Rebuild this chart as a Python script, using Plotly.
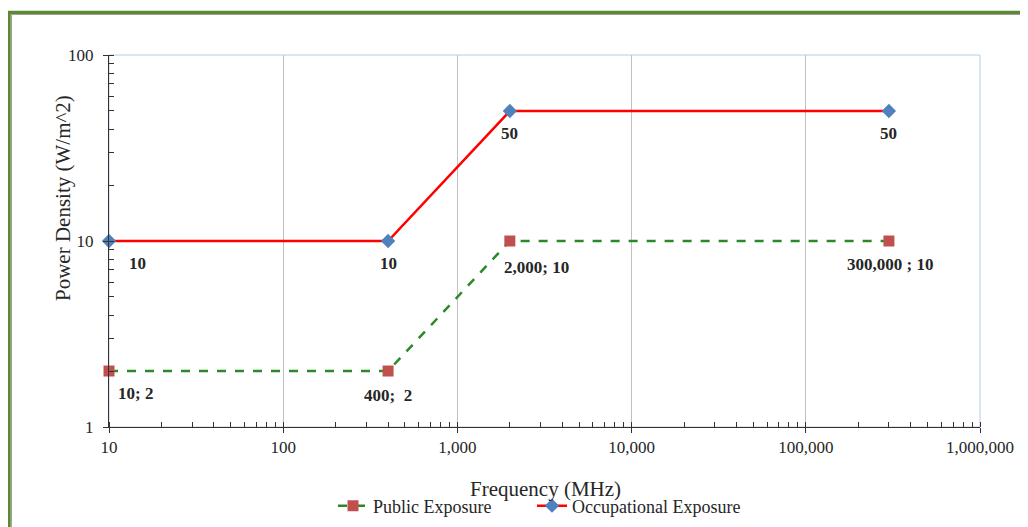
import math
import plotly.graph_objects as go

freq = [10, 400, 2000, 300000]
public_vals = [2, 2, 10, 10]
occup_vals = [10, 10, 50, 50]
public_labels = ["10; 2", "400;&nbsp; 2", "2,000; 10", "300,000 ; 10"]
occup_labels = ["10", "10", "50", "50"]
x_ticks = [10, 100, 1000, 10000, 100000, 1000000]
x_ticktext = ["10", "100", "1,000", "10,000", "100,000", "1,000,000"]
y_ticks = [1, 10, 100]

FONT = "Liberation Serif"
TXT = "#262626"

fig = go.Figure()
fig.add_trace(go.Scatter(
    x=freq, y=public_vals, name="Public Exposure", mode="lines+markers",
    line=dict(color="#2a8a2a", width=2.5, dash="dash"),
    marker=dict(symbol="square", size=11, color="#c0504d"),
    cliponaxis=False, legend="legend",
))
fig.add_trace(go.Scatter(
    x=freq, y=occup_vals, name="Occupational Exposure", mode="lines+markers",
    line=dict(color="#ff0000", width=2.5),
    marker=dict(symbol="diamond", size=11, color="#4f81bd"),
    cliponaxis=False, legend="legend2",
))

# data labels (annotation coords on log axes are log10 values)
occ_dx = [28, 0, 0, 0]
occ_dy = [-22, -22, -23, -23]
pub_dx = [26, 0, 27, 1]
pub_dy = [-22, -24, -26, -23]
annotations = []
for x, y, t, dx, dy in zip(freq, occup_vals, occup_labels, occ_dx, occ_dy):
    annotations.append(dict(x=math.log10(x), y=math.log10(y), xref="x", yref="y",
                            text="<b>%s</b>" % t, showarrow=False, xshift=dx, yshift=dy,
                            font=dict(family=FONT, size=17, color=TXT)))
for x, y, t, dx, dy in zip(freq, public_vals, public_labels, pub_dx, pub_dy):
    annotations.append(dict(x=math.log10(x), y=math.log10(y), xref="x", yref="y",
                            text="<b>%s</b>" % t, showarrow=False, xshift=dx, yshift=dy,
                            font=dict(family=FONT, size=17, color=TXT)))

# page body has an 8px margin; layout below is in figure pixels
W, H = 1020, 519
L, R, T, B = 101, 48, 47, 100
pw, ph = W - L - R, H - T - B

def px(x):
    return (x - L) / pw

def py(y):
    return (H - B - y) / ph

# axis titles
annotations.append(dict(x=px(545 - 8), y=py(489 - 8), xref="paper", yref="paper",
                        text="Frequency (MHz)", showarrow=False, xanchor="center", yanchor="middle",
                        font=dict(family=FONT, size=21, color=TXT)))
annotations.append(dict(x=px(63 - 8), y=py(198 - 8), xref="paper", yref="paper",
                        text="Power Density (W/m^2)", showarrow=False, textangle=-90,
                        xanchor="center", yanchor="middle",
                        font=dict(family=FONT, size=21, color=TXT)))

shapes = [
    dict(type="rect", xref="paper", yref="paper", x0=0, y0=0, x1=1, y1=1,
         line=dict(color="#b9cde5", width=1), layer="below"),
    dict(type="line", xref="paper", yref="paper", x0=px(1), y0=py(600), x1=px(1), y1=py(3.5),
         line=dict(color="#5b8a31", width=3.5)),
    dict(type="line", xref="paper", yref="paper", x0=px(-1), y0=py(4.5), x1=px(1100), y1=py(4.5),
         line=dict(color="#5b8a31", width=3.5)),
    dict(type="line", xref="paper", yref="paper", x0=px(3.5), y0=py(600), x1=px(3.5), y1=py(6.5),
         line=dict(color="#a0a0a0", width=1)),
    dict(type="line", xref="paper", yref="paper", x0=px(3.5), y0=py(6.5), x1=px(1100), y1=py(6.5),
         line=dict(color="#a0a0a0", width=1)),
]

legend_common = dict(orientation="h", xref="container", yref="container",
                     xanchor="left", y=(H - (506 - 8)) / H, yanchor="middle",
                     font=dict(family=FONT, size=18, color=TXT), bgcolor="rgba(0,0,0,0)")

fig.update_layout(
    width=W, height=H,
    margin=dict(l=L, r=R, t=T, b=B, autoexpand=False),
    paper_bgcolor="white", plot_bgcolor="white",
    font=dict(family=FONT, size=16, color=TXT),
    showlegend=True,
    legend=dict(x=(333 - 8) / W, **legend_common),
    legend2=dict(x=(532 - 8) / W, **legend_common),
    xaxis=dict(
        type="log", range=[1, 6],
        tickvals=x_ticks, ticktext=x_ticktext,
        showgrid=True, gridcolor="#c0c0c0", gridwidth=1,
        showline=True, linecolor="#333", linewidth=1,
        ticks="outside", ticklen=5, tickcolor="#333",
        tickfont=dict(family=FONT, size=17, color=TXT),
        minor=dict(ticks="inside", ticklen=5, tickcolor="#333", dtick="D1", showgrid=False),
        zeroline=False, automargin=False,
    ),
    yaxis=dict(
        type="log", range=[0, 2],
        tickvals=y_ticks, ticktext=[str(v) for v in y_ticks],
        showgrid=False,
        showline=True, linecolor="#333", linewidth=1,
        ticks="outside", ticklen=5, tickcolor="#333", ticklabelstandoff=6,
        tickfont=dict(family=FONT, size=17, color=TXT),
        minor=dict(ticks="inside", ticklen=5, tickcolor="#333", dtick="D1", showgrid=False),
        zeroline=False, automargin=False,
    ),
    annotations=annotations,
    shapes=shapes,
)

fig.write_html("out.html")
